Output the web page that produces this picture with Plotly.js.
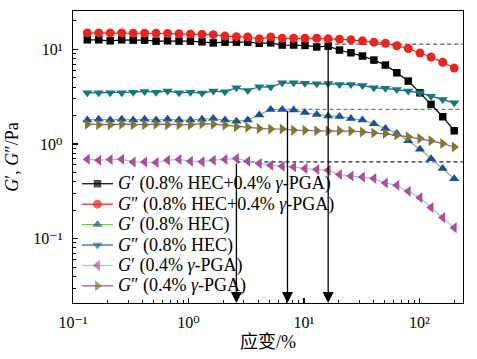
<!DOCTYPE html>
<html>
<head>
<meta charset="utf-8">
<script src="https://cdn.plot.ly/plotly-3.0.1.min.js"></script>
<style>html,body{margin:0;padding:0;background:#fff;}#chart{width:477px;height:359px;}</style>
</head>
<body>
<div id="chart"></div>
<script>
// strain (%)
const strain = [0.133,0.167,0.210,0.264,0.332,0.417,0.524,0.659,0.828,1.04,1.31,1.64,2.07,2.60,3.26,4.10,5.15,6.48,8.14,10.2,12.9,16.2,20.3,25.5,32.1,40.3,50.7,63.7,80.0,101,126,159,200];
// G' (0.8% HEC+0.4% γ-PGA)
const gpMix = [12.6,12.6,12.3,12.6,12.5,12.5,12.2,12.3,12.2,12.2,12.0,11.7,11.9,11.9,11.9,11.6,11.7,11.1,11.1,11.0,10.6,10.8,9.83,9.20,8.49,7.70,6.82,5.65,4.62,3.47,2.62,1.94,1.38];
// G'' (0.8% HEC+0.4% γ-PGA)
const gppMix = [14.9,14.9,14.9,14.9,14.8,14.8,14.8,14.7,14.6,14.5,14.4,14.3,13.8,13.6,13.5,12.9,13.5,13.1,13.1,13.1,13.1,12.9,12.8,12.6,12.3,11.9,11.6,10.9,10.2,9.14,8.29,7.29,6.34];
// G' (0.8% HEC)
const gpHec = [1.79,1.83,1.79,1.83,1.79,1.83,1.79,1.83,1.79,1.79,1.83,1.86,1.79,1.74,1.79,2.02,2.32,2.32,2.28,2.15,2.05,1.98,1.95,1.86,1.79,1.64,1.46,1.29,1.08,0.88,0.70,0.55,0.43];
// G'' (0.8% HEC)
const gppHec = [3.47,3.47,3.47,3.47,3.53,3.59,3.53,3.62,3.47,3.53,3.45,3.62,3.56,3.92,3.68,4.02,3.99,4.43,4.43,4.37,4.32,4.35,4.26,4.26,4.16,3.92,3.87,3.77,3.62,3.47,3.20,2.96,2.72];
// G' (0.4% γ-PGA)
const gpPga = [0.691,0.674,0.686,0.691,0.646,0.646,0.637,0.674,0.686,0.658,0.650,0.674,0.686,0.702,0.658,0.622,0.597,0.582,0.572,0.550,0.537,0.528,0.475,0.460,0.449,0.431,0.388,0.366,0.317,0.270,0.213,0.167,0.130];
// G'' (0.4% γ-PGA)
const gppPga = [1.62,1.60,1.60,1.62,1.60,1.60,1.62,1.60,1.60,1.60,1.64,1.62,1.58,1.52,1.50,1.46,1.44,1.44,1.40,1.40,1.38,1.37,1.38,1.37,1.34,1.31,1.29,1.24,1.19,1.14,1.08,1.01,0.93];
// critical strain markers (arrows) and plateau levels (dashed lines)
const critStrain = [2.60, 7.2, 16.2];
const critModulus = [0.647, 2.32, 11.3];
// tick labels
const xTickVals = [0.1, 1, 10, 100];
const xTickText = ['10⁻¹', '10⁰', '10¹', '10²'];
const yTickVals = [0.1, 1, 10];
const yTickText = ['10⁻¹', '10⁰', '10¹'];
const names = [
  '<i>G</i>′ (0.8% HEC+0.4% <i>γ</i>-PGA)',
  '<i>G</i>″ (0.8% HEC+0.4% <i>γ</i>-PGA)',
  '<i>G</i>′ (0.8% HEC)',
  '<i>G</i>″ (0.8% HEC)',
  '<i>G</i>′ (0.4% <i>γ</i>-PGA)',
  '<i>G</i>″ (0.4% <i>γ</i>-PGA)'
];

const SERIF = '"Liberation Serif", "DejaVu Serif", serif';
const traces = [];

// dashed reference lines
for (let k = 0; k < critStrain.length; k++) {
  traces.push({x: [critStrain[k], 1000], y: [critModulus[k], critModulus[k]], mode: 'lines',
    line: {color: k === 0 ? '#222' : '#777', width: 1.4, dash: '4px,3px'}, showlegend: false, hoverinfo: 'skip'});
}

const specs = [
  {y: gpMix,  mc: '#000000', lc: '#000000', sym: 'square', size: 7.5},
  {y: gppMix, mc: '#e82520', lc: '#e82520', sym: 'circle', size: 9},
  {y: gpHec,  mc: '#1c4fa0', lc: '#7cc242', sym: 'triangle-up', size: 9},
  {y: gppHec, mc: '#137a78', lc: '#2456a8', sym: 'triangle-down', size: 9},
  {y: gpPga,  mc: '#b04c9e', lc: '#7fd0e2', sym: 'triangle-left', size: 9.5},
  {y: gppPga, mc: '#7d7a2a', lc: '#9b4c9a', sym: 'triangle-right', size: 9.5}
];
specs.forEach((s, i) => {
  traces.push({
    x: strain, y: s.y, mode: 'lines+markers', name: names[i], showlegend: false,
    line: {color: s.lc, width: 1.2},
    marker: {symbol: s.sym, color: s.mc, size: s.size, line: {width: 0}}
  });
});

// hand-placed legend (pixel coordinates on an invisible overlay axis)
const legTop = 183.5, legStep = 20.4, legX0 = 82, legX1 = 113, legTextX = 116;
const annotations = [];
specs.forEach((s, i) => {
  const yc = legTop + i * legStep;
  traces.push({
    x: [legX0, (legX0 + legX1) / 2, legX1], y: [yc, yc, yc], xaxis: 'x2', yaxis: 'y2',
    mode: 'lines+markers', showlegend: false, hoverinfo: 'skip',
    line: {color: s.lc, width: 1.2},
    marker: {symbol: s.sym, color: s.mc, size: [0, s.size, 0], line: {width: 0}}
  });
  annotations.push({x: legTextX, y: yc, xref: 'x2', yref: 'y2', xanchor: 'left', yanchor: 'middle',
    text: names[i], showarrow: false, font: {family: SERIF, size: 18, color: '#000'}});
});

const yBottom = -1.68;
critStrain.forEach((xs, k) => annotations.push({
  x: Math.log10(xs), y: yBottom, ax: Math.log10(xs), ay: Math.log10(critModulus[k]),
  xref: 'x', yref: 'y', axref: 'x', ayref: 'y', text: '', showarrow: true,
  arrowhead: 2, arrowsize: 1.7, arrowwidth: 1.3, arrowcolor: '#000', standoff: 0
}));

const axisCommon = {
  type: 'log', showgrid: false, zeroline: false, showline: true, mirror: true,
  linecolor: '#000', linewidth: 1.3, ticks: 'inside', ticklen: 5, tickwidth: 1.1, tickcolor: '#000',
  tickmode: 'array',
  minor: {ticks: 'inside', ticklen: 3, tickwidth: 1, tickcolor: '#000', dtick: 'D1', tickmode: 'linear'},
  tickfont: {family: SERIF, size: 16, color: '#000'}
};

const layout = {
  width: 477, height: 359,
  margin: {l: 73, r: 14, t: 11, b: 56.4},
  paper_bgcolor: '#fff', plot_bgcolor: '#fff',
  showlegend: false,
  xaxis: Object.assign({}, axisCommon, {range: [-1, 2.377], tickvals: xTickVals, ticktext: xTickText,
    ticklabelstandoff: 4,
    title: {text: '应变/%', font: {family: SERIF + ', "Noto Sans CJK SC"', size: 18, color: '#000'}, standoff: 6}}),
  yaxis: Object.assign({}, axisCommon, {range: [-1.68, 1.405], tickvals: yTickVals, ticktext: yTickText,
    ticklabelstandoff: 6,
    title: {text: '<i>G</i>′, <i>G</i>″/Pa', font: {family: SERIF, size: 18, color: '#000'}, standoff: 10}}),
  xaxis2: {overlaying: 'x', anchor: 'y2', visible: false, range: [73, 463], fixedrange: true},
  yaxis2: {overlaying: 'y', anchor: 'x2', visible: false, range: [302.6, 11], fixedrange: true},
  annotations: annotations
};

Plotly.newPlot('chart', traces, layout, {displayModeBar: false, staticPlot: true});
</script>
</body>
</html>
